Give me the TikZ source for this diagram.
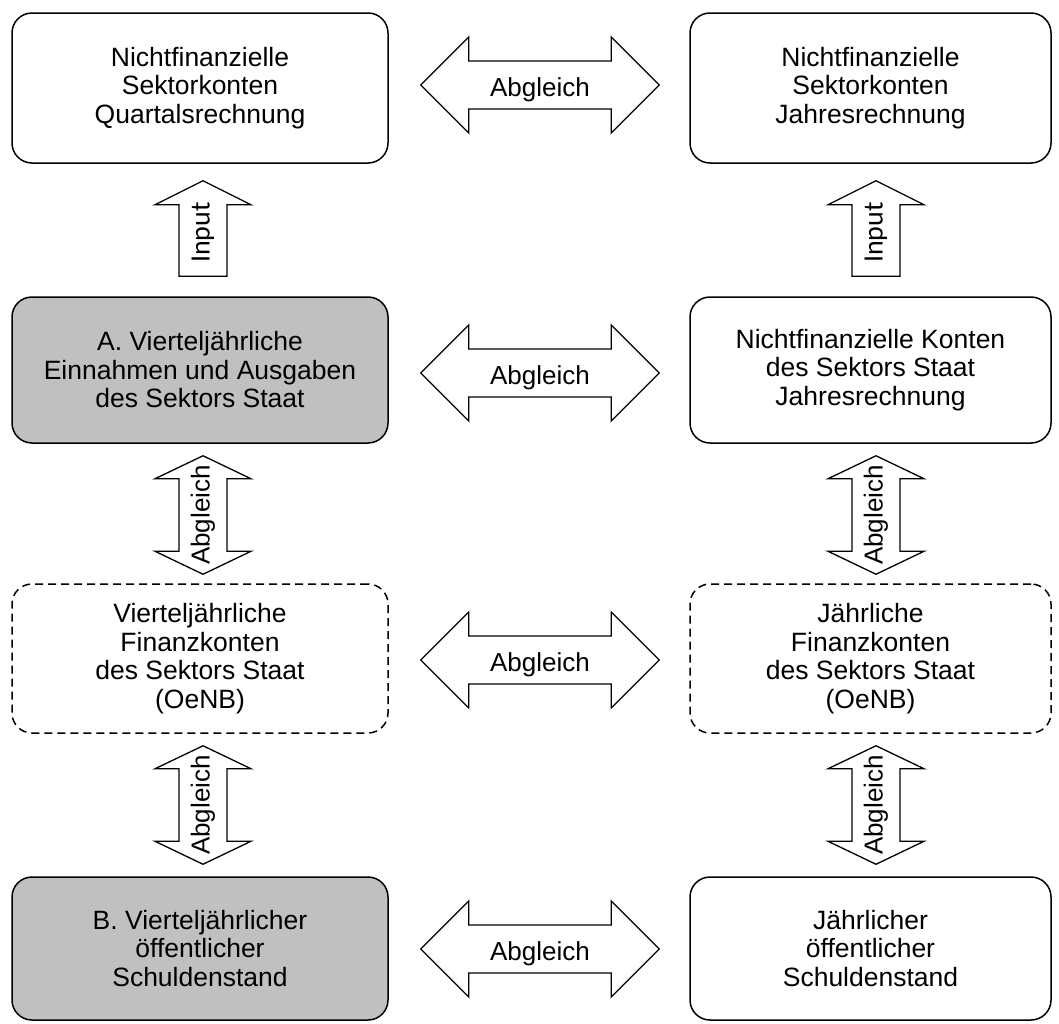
\documentclass[tikz,border=0pt]{standalone}
\usepackage{fontspec}
\setmainfont{Liberation Sans}
\newfontfamily\inputfont{Carlito}
\usetikzlibrary{calc}
\definecolor{boxgray}{RGB}{192,192,192}
\newcommand\hdarr[3]{%
  \draw[blockarrow] let \p1=(#1),\p2=(#2) in
    (\p1) -- (\x1+48pt,\y1+48pt) -- (\x1+48pt,\y1+24pt) -- (\x2-48pt,\y1+24pt)
    -- (\x2-48pt,\y1+48pt) -- (\x2,\y1) -- (\x2-48pt,\y1-48pt) -- (\x2-48pt,\y1-24pt)
    -- (\x1+48pt,\y1-24pt) -- (\x1+48pt,\y1-48pt) -- cycle;
  \node[arrowlabel] (#3) at ($(#1)!0.5!(#2)+(0,5)$) {Abgleich};
}
\newcommand\vdarr[3]{%
  \draw[blockarrow] let \p1=(#1),\p2=(#2) in
    (\p1) -- (\x1+48pt,\y1-23pt) -- (\x1+24pt,\y1-23pt) -- (\x1+24pt,\y2+23pt)
    -- (\x1+48pt,\y2+23pt) -- (\x1,\y2) -- (\x1-48pt,\y2+23pt) -- (\x1-24pt,\y2+23pt)
    -- (\x1-24pt,\y1-23pt) -- (\x1-48pt,\y1-23pt) -- cycle;
  \node[arrowlabel,rotate=90] (#3) at ($(#1)!0.5!(#2)$) {Abgleich};
}
\newcommand\uparr[3]{%
  \draw[blockarrow] let \p1=(#1),\p2=(#2) in
    (\p1) -- (\x1+48pt,\y1-24pt) -- (\x1+24pt,\y1-24pt) -- (\x1+24pt,\y2)
    -- (\x1-24pt,\y2) -- (\x1-24pt,\y1-24pt) -- (\x1-48pt,\y1-24pt) -- cycle;
  \node[inputlabel,rotate=90] (#3) at ($(#1)!0.5!(#2)+(0,4)$) {Input};
}
\tikzset{
  box/.style={draw, line width=1.5pt, rounded corners=20pt, align=center,
    font=\fontsize{26.5}{28.5}\selectfont, inner sep=0pt},
  lbox/.style={box, minimum width=376pt},
  rbox/.style={box, minimum width=361pt},
  grayfill/.style={fill=boxgray},
  dashbox/.style={dash pattern=on 8pt off 5pt},
  blockarrow/.style={draw, line width=1.3pt, line join=miter, fill=white},
  arrowlabel/.style={font=\fontsize{26}{27}\selectfont, inner sep=0pt},
  inputlabel/.style={font=\inputfont\fontsize{28}{29}\selectfont, inner sep=0pt},
}
\begin{document}
\begin{tikzpicture}[x=1pt,y=-1pt]
\useasboundingbox (0,0) rectangle (1059,1023);
\fill[white] (0,0) rectangle (1059,1023);
% boxes
\node[lbox, minimum height=150pt] (L1) at (200,88) {Nichtfinanzielle\\Sektorkonten\\Quartalsrechnung};
\node[rbox, minimum height=150pt] (R1) at (870.5,88) {Nichtfinanzielle\\Sektorkonten\\Jahresrechnung};
\node[lbox, grayfill, minimum height=146pt] (L2) at (200,370) {A. Vierteljährliche\\Einnahmen und Ausgaben\\des Sektors Staat};
\node[rbox, minimum height=146pt] (R2) at (870.5,370) {Nichtfinanzielle Konten\\des Sektors Staat\\Jahresrechnung};
\node[lbox, dashbox, minimum height=149pt] (L3) at (200,658.5) {Vierteljährliche\\Finanzkonten\\des Sektors Staat\\(OeNB)};
\node[rbox, dashbox, minimum height=149pt] (R3) at (870.5,658.5) {Jährliche\\Finanzkonten\\des Sektors Staat\\(OeNB)};
\node[lbox, grayfill, minimum height=143pt] (L4) at (200,948.5) {B. Vierteljährlicher\\öffentlicher\\Schuldenstand};
\node[rbox, minimum height=143pt] (R4) at (870.5,948.5) {Jährlicher\\öffentlicher\\Schuldenstand};
% horizontal arrow end points
\coordinate (h1a) at ($(L1.east)+(32,-3)$);
\coordinate (h1b) at ($(R1.west)+(-30,-3)$);
\coordinate (h2a) at ($(L2.east)+(32,3)$);
\coordinate (h2b) at ($(R2.west)+(-30,3)$);
\coordinate (h3a) at ($(L3.east)+(32,1.5)$);
\coordinate (h3b) at ($(R3.west)+(-30,1.5)$);
\coordinate (h4a) at ($(L4.east)+(32,0.5)$);
\coordinate (h4b) at ($(R4.west)+(-30,0.5)$);
\hdarr{h1a}{h1b}{t1}
\hdarr{h2a}{h2b}{t2}
\hdarr{h3a}{h3b}{t3}
\hdarr{h4a}{h4b}{t4}
% input arrows
\coordinate (ila) at ($(L1.south)+(3,17)$);
\coordinate (ilb) at ($(L2.north)+(3,-20)$);
\coordinate (ira) at ($(R1.south)+(5.5,17)$);
\coordinate (irb) at ($(R2.north)+(5.5,-20)$);
\uparr{ila}{ilb}{il}
\uparr{ira}{irb}{ir}
% vertical Abgleich arrows
\coordinate (v1a) at ($(L2.south)+(3,12)$);
\coordinate (v1b) at ($(L3.north)+(3,-9)$);
\coordinate (v2a) at ($(L3.south)+(3,12)$);
\coordinate (v2b) at ($(L4.north)+(3,-12)$);
\coordinate (v3a) at ($(R2.south)+(5.5,12)$);
\coordinate (v3b) at ($(R3.north)+(5.5,-9)$);
\coordinate (v4a) at ($(R3.south)+(5.5,12)$);
\coordinate (v4b) at ($(R4.north)+(5.5,-12)$);
\vdarr{v1a}{v1b}{u1}
\vdarr{v2a}{v2b}{u2}
\vdarr{v3a}{v3b}{u3}
\vdarr{v4a}{v4b}{u4}
\end{tikzpicture}
\end{document}
